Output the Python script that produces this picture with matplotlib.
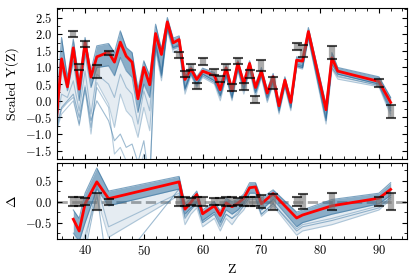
import matplotlib
matplotlib.use("Agg")
import matplotlib.pyplot as plt
from matplotlib.ticker import MultipleLocator, AutoMinorLocator

plt.rcParams["font.family"] = "serif"
plt.rcParams["font.serif"] = ["cmr10"]
plt.rcParams["mathtext.fontset"] = "cm"
plt.rcParams["axes.formatter.use_mathtext"] = True
plt.rcParams["axes.unicode_minus"] = True

# model grid (Z) and best fit
z_model = [35, 36, 37, 38, 39, 40, 41, 42, 44, 45, 46, 47, 48, 49, 50, 51, 52, 53, 54, 55,
           56, 57, 58, 59, 60, 62, 63, 64, 65, 66, 67, 68, 69, 70, 71, 72, 73, 74, 75, 76,
           77, 78, 81, 82, 83, 90, 92]
y_best = [-0.85, 1.26, 0.42, 1.59, 0.35, 1.76, 0.71, 1.32, 1.46, 1.16, 1.76, 1.34, 1.16, 0.06, 1.0, 0.48, 2.02, 1.39, 2.37, 1.74,
          1.84, 0.64, 0.96, 0.64, 0.89, 0.76, 0.33, 0.99, 0.31, 1.14, 0.52, 1.12, 0.40, 0.89, 0.23, 0.72, -0.15, 0.62, -0.05, 1.22,
          1.19, 2.08, -0.27, 1.29, 0.89, 0.58, -0.05]
# ensemble of sampled models: dense core + fainter spread + stray samples
y_core_hi = [-0.5, 1.9, 0.7, 1.85, 0.6, 1.9, 0.9, 1.65, 1.72, 1.45, 2.1, 1.6, 1.45, 0.35, 1.2, 0.75, 2.3, 1.55, 2.5, 1.88,
             1.95, 0.78, 1.05, 0.72, 0.98, 0.85, 0.45, 1.08, 0.42, 1.22, 0.62, 1.2, 0.5, 1.0, 0.35, 0.82, -0.05, 0.72, 0.05, 1.32,
             1.28, 2.2, -0.1, 1.45, 1.0, 0.72, 0.1]
y_core_lo = [-1.0, 1.0, 0.3, 1.2, 0.0, 1.4, 0.4, 1.0, 1.05, 0.75, 1.3, 0.9, 0.7, -0.35, 0.5, 0.1, 1.6, 0.75, 2.2, 1.6,
             1.65, 0.35, 0.85, 0.5, 0.8, 0.6, 0.15, 0.8, 0.1, 1.0, 0.35, 1.0, 0.25, 0.78, 0.1, 0.6, -0.3, 0.5, -0.2, 1.05,
             1.0, 1.95, -0.55, 1.1, 0.8, 0.5, -0.3]
y_fan_lo = [-1.0, -0.25, -0.05, 0.1, -0.75, 0.45, -1.0, 0.55, -0.1, -0.8, 0.2, -0.3, -0.5, -1.1, -0.2, -0.9, 1.5, 0.6, 2.1, 1.45,
            1.55, 0.2, 0.75, 0.4, 0.7, 0.5, 0.0, 0.7, 0.0, 0.9, 0.2, 0.9, 0.1, 0.7, -0.05, 0.5, -0.4, 0.4, -0.3, 1.0,
            0.95, 1.85, -0.7, 0.95, 0.65, 0.42, -0.45]
y_fan_mid = [-0.8, 0.2, 0.1, 0.6, -0.3, 0.9, -0.4, 0.8, 0.5, 0.1, 0.8, 0.4, 0.2, -0.7, 0.3, -0.3, 1.7, 0.9, 2.2, 1.55,
             1.6, 0.3, 0.8, 0.45, 0.75, 0.55, 0.1, 0.75, 0.05, 0.95, 0.3, 0.95, 0.2, 0.75, 0.0, 0.55, -0.35, 0.45, -0.25, 1.02,
             0.98, 1.9, -0.6, 1.0, 0.72, 0.47, -0.38]
y_stray_a = [-0.9, -0.2, 0.0, 0.2, -0.5, 0.4, -0.6, 0.0, -0.6, -1.2, -1.0, -1.4, -1.3, -1.85, -1.2, -2.5, 1.8, 0.8, 2.2, 1.6,
             1.7, 0.4, 0.85, 0.5, 0.8, 0.6, 0.2, 0.8, 0.15, 1.0, 0.4, 1.0, 0.3, 0.8, 0.1, 0.6, -0.25, 0.5, -0.15, 1.1,
             1.05, 1.95, -0.5, 1.1, 0.8, 0.5, -0.2]
y_stray_b = [-1.0, -0.4, -0.2, 0.0, -0.7, 0.3, -0.8, 0.4, -0.2, -1.6, -1.4, -1.8, -1.75, -2.2, -1.6, -2.4, 1.7, 0.7, 2.15, 1.55,
             1.65, 0.35, 0.8, 0.45, 0.75, 0.55, 0.15, 0.75, 0.1, 0.95, 0.35, 0.95, 0.25, 0.75, 0.05, 0.55, -0.3, 0.45, -0.2, 1.05,
             1.0, 1.9, -0.6, 1.0, 0.75, 0.45, -0.3]

# observed abundances
z_obs = [38, 39, 40, 42, 44, 56, 57, 58, 59, 60, 62, 63, 64, 65, 66, 67, 68, 69, 70, 72, 76, 77, 82, 90, 92]
y_obs = [2.01, 1.01, 1.70, 0.87, 1.44, 1.37, 0.80, 1.00, 0.44, 1.18, 0.86, 0.65, 1.01, 0.40, 1.18, 0.43, 0.80, 0.04, 1.05, 0.53,
         1.63, 1.50, 1.44, 0.53, -0.32]
y_err = [0.10, 0.10, 0.09, 0.20, 0.07, 0.10, 0.10, 0.09, 0.10, 0.11, 0.09, 0.09, 0.10, 0.11, 0.09, 0.11, 0.11, 0.10, 0.16, 0.19,
         0.11, 0.18, 0.20, 0.11, 0.20]

# residuals (model - observed)
d_best = [-0.42, -0.70, -0.05, 0.47, 0.07, 0.47, -0.18, -0.02, 0.17, -0.29, -0.10, -0.33, -0.03, -0.12, -0.04, 0.08, 0.33, 0.35,
          -0.05, 0.19, -0.39, -0.32, -0.10, 0.08, 0.29]
d_core_hi = [-0.2, -0.4, 0.2, 0.8, 0.25, 0.6, -0.05, 0.08, 0.25, -0.2, 0.0, -0.22, 0.08, 0.0, 0.05, 0.18, 0.45, 0.45, 0.08, 0.28,
             -0.25, -0.2, 0.05, 0.2, 0.45]
d_core_lo = [-0.75, -0.95, -0.5, 0.3, -0.1, 0.3, -0.3, -0.15, 0.0, -0.45, -0.25, -0.5, -0.2, -0.3, -0.2, -0.05, 0.2, 0.2, -0.2, 0.05,
             -0.6, -0.5, -0.3, -0.05, 0.15]
d_fan_lo = [-0.95, -1.2, -0.8, 0.1, -0.85, 0.15, -0.55, -0.3, -0.15, -0.6, -0.4, -0.7, -0.4, -0.55, -0.35, -0.2, 0.05, 0.05, -0.35,
            -0.1, -0.8, -0.7, -0.55, -0.2, 0.05]
d_stray_a = [-1.0, -1.3, -1.2, 0.2, -1.8, 0.3, -0.4, -0.2, -0.05, -0.5, -0.3, -0.6, -0.3, -0.4, -0.3, -0.1, 0.1, 0.1, -0.3,
             -0.05, -0.7, -0.6, -0.45, -0.15, 0.1]
d_stray_b = [-0.9, -1.1, -1.0, 0.4, -0.6, 0.2, -0.35, -0.2, 0.0, -0.5, -0.3, -0.55, -0.3, -0.4, -0.25, -0.1, 0.1, 0.1, -0.3,
             -0.05, -0.65, -0.55, -0.4, -0.1, 0.1]

blue = "#2a6a9a"

fig = plt.figure(figsize=(4.15, 2.8), dpi=100)
ax1 = fig.add_axes([0.137, 0.432, 0.844, 0.541])
ax2 = fig.add_axes([0.137, 0.145, 0.844, 0.273])

# top panel
ax1.fill_between(z_model, y_fan_lo, y_core_lo, color=blue, alpha=0.12, lw=0)
ax1.fill_between(z_model, y_core_lo, y_core_hi, color=blue, alpha=0.55, lw=0)
for yy, a in [(y_core_hi, 0.6), (y_core_lo, 0.5), (y_fan_mid, 0.35), (y_fan_lo, 0.3),
              (y_stray_a, 0.45), (y_stray_b, 0.35)]:
    ax1.plot(z_model, yy, color=blue, lw=0.8, alpha=a)
ax1.plot(z_model, y_best, color="red", lw=2)
ax1.errorbar(z_obs, y_obs, yerr=y_err, fmt="none", ecolor="0.45", elinewidth=4.5, alpha=0.6, zorder=5)
ax1.errorbar(z_obs, y_obs, yerr=y_err, fmt="none", ecolor="k", elinewidth=0, capsize=3.5, capthick=1.5,
             alpha=0.7, zorder=6)
ax1.set_ylabel("Scaled Y(Z)")
ax1.set_ylim(-1.75, 2.8)
ax1.yaxis.set_major_locator(MultipleLocator(0.5))
ax1.tick_params(labelbottom=False)

# bottom panel
ax2.axhline(0, color="0.5", ls="--", lw=2, alpha=0.7, zorder=0)
ax2.fill_between(z_obs, d_fan_lo, d_core_lo, color=blue, alpha=0.12, lw=0)
ax2.fill_between(z_obs, d_core_lo, d_core_hi, color=blue, alpha=0.55, lw=0)
for dd, a in [(d_core_hi, 0.6), (d_core_lo, 0.5), (d_fan_lo, 0.3), (d_stray_a, 0.45), (d_stray_b, 0.35)]:
    ax2.plot(z_obs, dd, color=blue, lw=0.8, alpha=a)
ax2.plot(z_obs, d_best, color="red", lw=2)
ax2.errorbar(z_obs, [0] * len(z_obs), yerr=y_err, fmt="none", ecolor="0.45", elinewidth=4.5, alpha=0.6, zorder=5)
ax2.errorbar(z_obs, [0] * len(z_obs), yerr=y_err, fmt="none", ecolor="k", elinewidth=0, capsize=3.5,
             capthick=1.5, alpha=0.7, zorder=6)
ax2.set_ylabel(r"$\Delta$")
ax2.set_xlabel("Z")
ax2.set_ylim(-0.9, 0.92)
ax2.yaxis.set_major_locator(MultipleLocator(0.5))

for ax in (ax1, ax2):
    ax.set_xlim(35.2, 94.8)
    ax.xaxis.set_major_locator(MultipleLocator(10))
    ax.xaxis.set_minor_locator(MultipleLocator(2))
    ax.yaxis.set_minor_locator(AutoMinorLocator(2))
    ax.tick_params(which="both", direction="in", top=True, right=True, labelsize=9)
    ax.tick_params(which="major", length=3.5, width=0.8)
    ax.tick_params(which="minor", length=2, width=0.6)

fig.savefig("out.png", dpi=100)
